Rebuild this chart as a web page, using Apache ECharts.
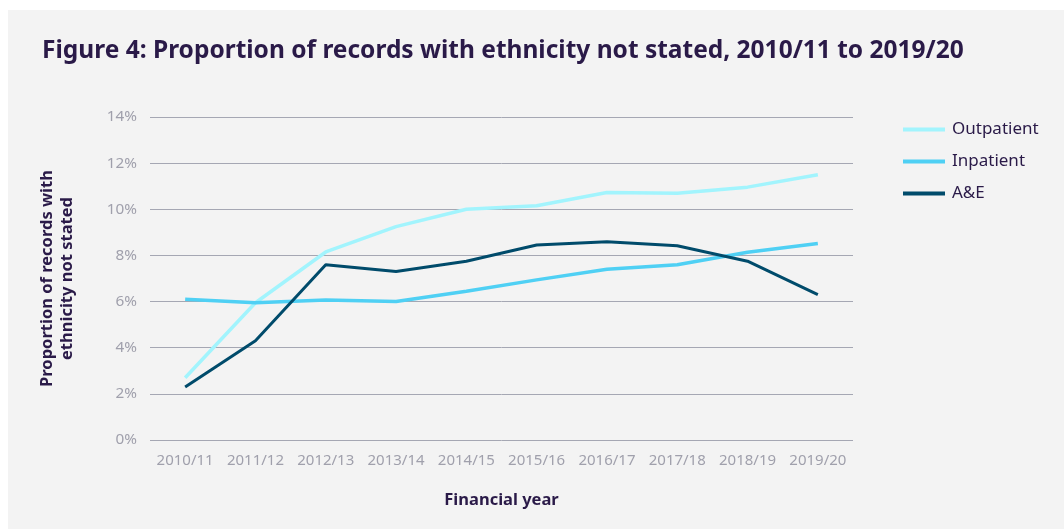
<!DOCTYPE html>
<html>
<head>
<meta charset="utf-8">
<script src="https://cdn.jsdelivr.net/npm/echarts@6/dist/echarts.min.js"></script>
<style>
  html, body { margin: 0; padding: 0; background: #ffffff; }
  #chart { width: 1064px; height: 529px; }
</style>
</head>
<body>
<div id="chart"></div>
<script>
// financial years
var years = ['2010/11', '2011/12', '2012/13', '2013/14', '2014/15',
  '2015/16', '2016/17', '2017/18', '2018/19', '2019/20'];

// proportion of records with ethnicity not stated (%)
var outpatient = [2.7, 5.95, 8.15, 9.25, 10.0, 10.15, 10.73, 10.69, 10.96, 11.5];
var inpatient  = [6.1, 5.95, 6.07, 6.0, 6.45, 6.94, 7.4, 7.6, 8.14, 8.52];
var ae         = [2.3, 4.3, 7.6, 7.3, 7.75, 8.45, 8.59, 8.42, 7.75, 6.3];

var textDark = '#2a1a48';
var textGrey = '#a0a0ac';

var chart = echarts.init(document.getElementById('chart'));

function getOption() {
  return {
    backgroundColor: '#ffffff',
    animation: false,
    graphic: [
      {
        type: 'rect',
        z: -10,
        shape: { x: 8, y: 10, width: 1056, height: 519 },
        style: { fill: '#f3f3f3' }
      },
      {
        type: 'text',
        left: 42,
        top: 39,
        style: {
          text: 'Figure 4: Proportion of records with ethnicity not stated, 2010/11 to 2019/20',
          font: 'bold 24.5px "Noto Sans"',
          fill: textDark
        }
      }
    ],
    legend: {
      orient: 'vertical',
      left: 898,
      top: 116,
      itemWidth: 42,
      itemHeight: 4,
      itemGap: 15,
      icon: 'rect',
      textStyle: { color: textDark, fontSize: 17, fontFamily: 'Noto Sans', padding: [0, 0, 0, 2] },
      data: ['Outpatient', 'Inpatient', 'A&E']
    },
    grid: {
      left: 150,
      right: 211,
      top: 117,
      bottom: 89
    },
    xAxis: {
      type: 'category',
      data: years,
      boundaryGap: true,
      axisLine: { show: false },
      axisTick: { show: false },
      axisLabel: { interval: 0, color: textGrey, fontSize: 15, fontFamily: 'Noto Sans', margin: 13 },
      name: 'Financial year',
      nameLocation: 'middle',
      nameGap: 52,
      nameTextStyle: { color: textDark, fontSize: 16.5, fontWeight: 'bold', fontFamily: 'Noto Sans' }
    },
    yAxis: {
      type: 'value',
      min: 0,
      max: 14,
      interval: 2,
      axisLabel: {
        color: textGrey,
        fontSize: 15.3,
        fontFamily: 'Noto Sans',
        margin: 13,
        formatter: '{value}%'
      },
      splitLine: { lineStyle: { color: '#a5a7b3', width: 1 } },
      name: 'Proportion of records with\nethnicity not stated',
      nameLocation: 'middle',
      nameGap: 73,
      nameTextStyle: { color: textDark, fontSize: 16.5, fontWeight: 'bold', fontFamily: 'Noto Sans', lineHeight: 20 }
    },
    series: [
      {
        name: 'Outpatient',
        type: 'line',
        data: outpatient,
        symbol: 'none',
        color: '#a2f4fd',
        lineStyle: { width: 3.5 }
      },
      {
        name: 'Inpatient',
        type: 'line',
        data: inpatient,
        symbol: 'none',
        color: '#4fd0f4',
        lineStyle: { width: 3.5 }
      },
      {
        name: 'A&E',
        type: 'line',
        data: ae,
        symbol: 'none',
        color: '#004b6b',
        lineStyle: { width: 3 }
      }
    ]
  };
}

chart.setOption(getOption());
</script>
</body>
</html>
